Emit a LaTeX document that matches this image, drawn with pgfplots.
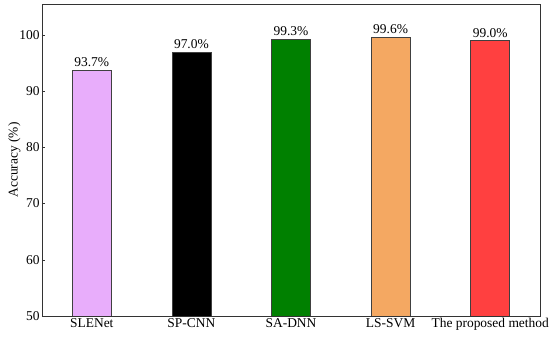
\documentclass[border=0pt]{standalone}
\usepackage{pgfplots}
\pgfplotsset{compat=1.18}
\usepackage{fontspec}
\setmainfont{Liberation Serif}
\definecolor{cA}{HTML}{E8ADFB}
\definecolor{cB}{HTML}{000000}
\definecolor{cC}{HTML}{008000}
\definecolor{cD}{HTML}{F4A862}
\definecolor{cE}{HTML}{FF4040}
\begin{document}
\begin{tikzpicture}[x=1bp,y=1bp]
\path[use as bounding box] (-42bp,-22bp) rectangle (508bp,316bp);
\begin{axis}[
  at={(0,0)}, anchor=south west,
  scale only axis, width=498bp, height=312bp,
  xmin=-0.5, xmax=4.5, ymin=50, ymax=105.5,
  ybar, bar width=39bp,
  xtick={0,1,2,3,4},
  xticklabels={SLENet,SP-CNN,SA-DNN,LS-SVM,The proposed method},
  ytick={50,60,70,80,90,100},
  tick style={draw=black!80, thin},
  x tick label style={font=\fontsize{13.5}{15}\selectfont, yshift=1pt},
  y tick label style={font=\fontsize{13.5}{15}\selectfont, xshift=1pt},
  tick align=inside,
  major tick length=3.5bp,
  tick pos=left,
  axis line style={draw=black!80, line width=0.8pt},
  ylabel={Accuracy (\%)},
  ylabel style={font=\fontsize{13.5}{15}\selectfont, yshift=-8pt},
  /pgf/number format/assume math mode=true,
  nodes near coords={\pgfmathprintnumber[fixed,precision=1,fixed zerofill]{\pgfplotspointmeta}\%},
  every node near coord/.append style={font=\fontsize{13.5}{15}\selectfont, inner sep=1pt, yshift=2pt},
  every axis plot/.append style={bar shift=0pt, draw=black!75, line width=0.5pt},
]
\addplot[fill=cA] coordinates {(0,93.7)};
\addplot[fill=cB] coordinates {(1,97.0)};
\addplot[fill=cC] coordinates {(2,99.3)};
\addplot[fill=cD] coordinates {(3,99.6)};
\addplot[fill=cE] coordinates {(4,99.0)};
\end{axis}
\end{tikzpicture}
\end{document}
